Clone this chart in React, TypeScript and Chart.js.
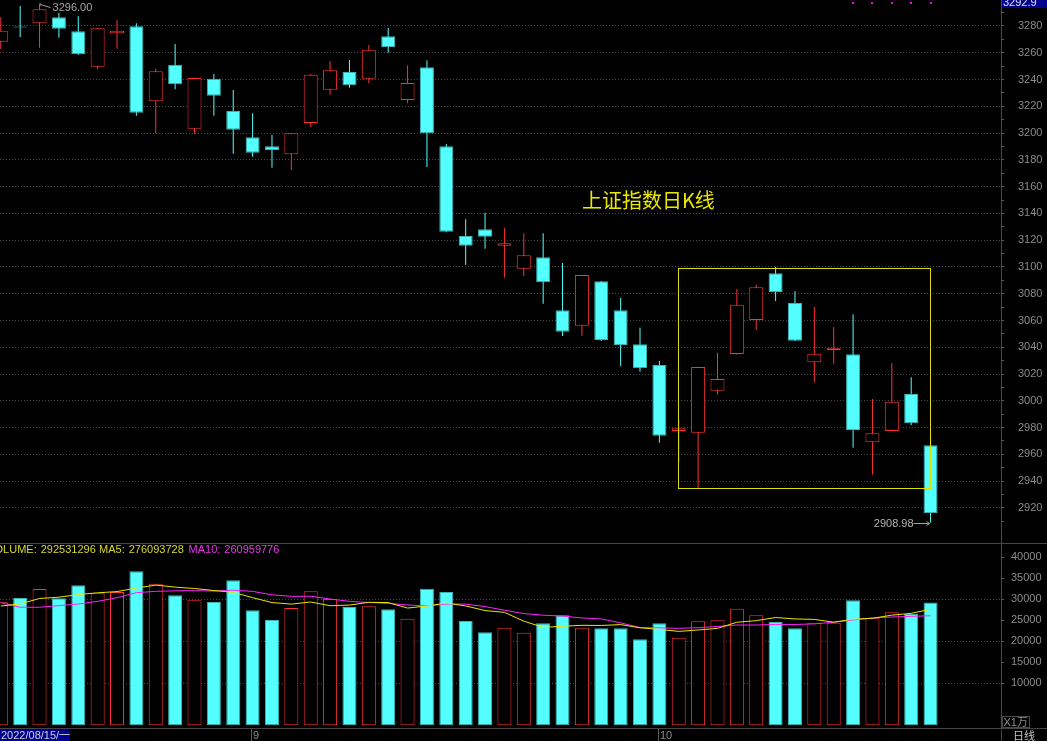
import React, { useEffect, useRef } from "react";
import { Chart, registerables } from "chart.js";

Chart.register(...registerables);

// ---- data ----
const opens = [3268.3, 3279.3, 3282.0, 3286.5, 3276.0, 3249.6, 3274.5, 3279.8, 3223.7, 3251.1, 3203.3, 3240.6, 3216.5, 3196.8, 3190.1, 3184.1, 3207.5, 3232.4, 3245.6, 3240.6, 3272.3, 3224.7, 3249.1, 3190.1, 3123.1, 3128.1, 3115.9, 3098.7, 3107.2, 3067.6, 3056.1, 3089.3, 3067.6, 3042.2, 3026.7, 2977.4, 2976.2, 3007.5, 3034.9, 3060.4, 3095.2, 3073.1, 3028.8, 3037.7, 3034.7, 2969.0, 2977.4, 3005.1, 2966.7];
const highs = [3286.5, 3294.9, 3296.0, 3289.9, 3287.2, 3278.5, 3284.5, 3282.0, 3248.1, 3266.6, 3241.5, 3244.1, 3232.2, 3214.8, 3198.6, 3200.0, 3244.1, 3253.9, 3254.6, 3265.8, 3278.5, 3250.6, 3254.4, 3191.8, 3135.6, 3140.5, 3129.3, 3125.1, 3125.1, 3102.9, 3094.2, 3089.5, 3076.8, 3054.6, 3029.7, 2986.1, 3025.4, 3035.9, 3083.5, 3086.7, 3100.2, 3081.8, 3070.1, 3055.1, 3064.6, 3001.3, 3028.0, 3017.5, 2974.4];
const lows = [3262.6, 3271.8, 3263.8, 3271.3, 3258.6, 3247.6, 3263.0, 3213.0, 3199.5, 3232.7, 3199.5, 3213.0, 3184.6, 3182.4, 3174.1, 3172.2, 3204.5, 3228.7, 3233.9, 3237.2, 3260.1, 3222.2, 3174.7, 3126.0, 3101.4, 3113.6, 3092.0, 3093.2, 3072.5, 3048.4, 3048.6, 3044.7, 3025.9, 3021.7, 2968.7, 2954.0, 2934.1, 3004.5, 3034.6, 3052.9, 3074.5, 3044.6, 3013.8, 3027.7, 2964.9, 2944.8, 2977.2, 2981.7, 2908.98];
const closes = [3276.5, 3278.8, 3292.5, 3278.0, 3258.9, 3278.3, 3276.5, 3215.2, 3246.2, 3236.4, 3241.2, 3227.9, 3202.5, 3185.3, 3187.1, 3199.8, 3243.6, 3246.9, 3235.7, 3262.3, 3264.3, 3237.4, 3199.8, 3126.3, 3115.9, 3122.6, 3117.6, 3108.7, 3088.5, 3051.6, 3094.0, 3045.4, 3041.7, 3024.3, 2973.9, 2979.4, 3025.2, 3016.3, 3071.8, 3084.8, 3081.3, 3044.9, 3035.2, 3039.2, 2978.2, 2975.7, 2999.3, 2983.2, 2916.2];
// volume in units of 10,000 (X1万)
const volumes = [29300, 30310, 32450, 30240, 33330, 31430, 31740, 36670, 33720, 30950, 29760, 29360, 34520, 27380, 25070, 27930, 31900, 30070, 28170, 28330, 27620, 25380, 32520, 31740, 24830, 22140, 23240, 22050, 24290, 26190, 23240, 23090, 23090, 20480, 24290, 20860, 24760, 25000, 27760, 26190, 24600, 23090, 24430, 24430, 29760, 25620, 26900, 26570, 29253];
const ma5 = [28400, 28900, 30200, 30500, 31126, 31552, 31838, 32682, 33378, 32902, 32568, 32092, 31662, 30394, 29218, 28852, 29360, 28470, 28628, 29280, 29218, 27914, 28404, 29118, 28418, 27322, 26894, 24800, 23310, 23582, 23802, 23772, 23980, 23218, 22838, 22362, 22696, 23078, 24534, 24914, 25662, 25328, 25214, 24548, 25262, 25466, 26228, 26656, 27621];
const ma10 = [29190, 28100, 28100, 28500, 28880, 29520, 30380, 31570, 31900, 32014, 32060, 31965, 32172, 31886, 31060, 30710, 30726, 30066, 29511, 29249, 29035, 28637, 28437, 28873, 28849, 28270, 27404, 26602, 26214, 26000, 25562, 25333, 24390, 23264, 23210, 23082, 23234, 23529, 23876, 23876, 24012, 24012, 24146, 24541, 25088, 25564, 25778, 25935, 26084];

// tick values of the two value axes
const priceTicks = [2900, 2910, 2920, 2930, 2940, 2950, 2960, 2970, 2980, 2990, 3000, 3010, 3020, 3030, 3040, 3050, 3060, 3070, 3080, 3090, 3100, 3110, 3120, 3130, 3140, 3150, 3160, 3170, 3180, 3190, 3200, 3210, 3220, 3230, 3240, 3250, 3260, 3270, 3280, 3290];
const volumeTicks = [10000, 15000, 20000, 25000, 30000, 35000, 40000];

const TITLE = "上证指数日K线";
const TITLE_AT_INDEX = 30;
const TITLE_AT_PRICE = 3150;
const HIGH_INDEX = 2;
const HIGH_LABEL = "3296.00";
const LOW_INDEX = 48;
const LOW_LABEL = "2908.98";
const BOX_FROM = 35;
const BOX_TO = 48;
const BOX_TOP = 3099;
const BOX_BOTTOM = 2934.3;
const MARK_INDEXES = [44, 45, 46, 47, 48];
const CURSOR_PRICE = "3292.9";
const VOL_NOW = "292531296";
const MA5_NOW = "276093728";
const MA10_NOW = "260959776";
const FIRST_DATE = "2022/08/15/一";
const MONTH_INDEXES = [13, 34];
const MONTH_LABELS = ["9", "10"];
const PRICE_LABEL_MIN = 2920;
const PRICE_LABEL_MAX = 3280;
const VOL_GRID = [10000, 20000, 30000];

// ---- axis ranges ----
const X_MIN = -0.0413;
const X_MAX = 51.6366;
const P_MIN = 2893.75;
const P_MAX = 3299.42;
const V_MIN = -643;
const V_MAX = 43405;

const RED = "#ff3232";
const CYAN = "#54ffff";
const CYAN_EDGE = "#3cb4b4";
const GRID = "#474747";
const AXIS = "#4a4a4a";
const LABEL = "#8c8c8c";
const FONT = "'Liberation Sans', Arial, sans-serif";

const idx = opens.map((_, i) => i);
const isUp = (i: number) => closes[i] > opens[i];

const xScale = {
  type: "linear" as const,
  min: X_MIN,
  max: X_MAX,
  offset: false,
  display: false,
  grid: { display: false },
  afterFit: (s: any) => {
    s.paddingLeft = 0;
    s.paddingRight = 0;
    s.paddingTop = 0;
    s.paddingBottom = 0;
  },
};

function priceConfig(): any {
  const overlay = {
    id: "priceOverlay",
    afterDraw(chart: any) {
      const { ctx } = chart;
      const xs = chart.scales.x;
      const ys = chart.scales.y;
      const px = (i: number) => xs.getPixelForValue(i);
      const py = (v: number) => ys.getPixelForValue(v);
      ctx.save();
      // yellow frame
      ctx.strokeStyle = "#e0e000";
      ctx.lineWidth = 1;
      const bx1 = Math.floor(px(BOX_FROM)) + 0.5;
      const bx2 = Math.floor(px(BOX_TO)) + 0.5;
      const by1 = Math.floor(py(BOX_TOP)) + 0.5;
      const by2 = Math.floor(py(BOX_BOTTOM)) + 0.5;
      ctx.strokeRect(bx1, by1, bx2 - bx1, by2 - by1);
      // title
      ctx.fillStyle = "#e8e800";
      ctx.font = "20px 'Noto Sans CJK SC', sans-serif";
      ctx.textAlign = "left";
      ctx.textBaseline = "middle";
      ctx.fillText(TITLE, px(TITLE_AT_INDEX), py(TITLE_AT_PRICE));
      // high label
      ctx.font = `11px ${FONT}`;
      const hx = px(HIGH_INDEX);
      const hy = py(highs[HIGH_INDEX]);
      ctx.strokeStyle = "#a0a0a0";
      ctx.fillStyle = "#a8a8a8";
      ctx.beginPath();
      ctx.moveTo(hx + 11, hy + 3);
      ctx.lineTo(hx + 1, hy);
      ctx.moveTo(hx + 0.5, hy - 1.5);
      ctx.lineTo(hx + 0.5, hy + 1.5);
      ctx.stroke();
      ctx.fillText(HIGH_LABEL, hx + 13, hy + 3.7);
      // low label
      const lx = px(LOW_INDEX);
      const ly = Math.round(py(lows[LOW_INDEX])) + 0.5;
      ctx.textAlign = "right";
      ctx.fillStyle = "#b4b4b4";
      ctx.fillText(LOW_LABEL, lx - 17, ly + 0.5);
      ctx.strokeStyle = "#a0a0a0";
      ctx.beginPath();
      ctx.moveTo(lx - 17, ly);
      ctx.lineTo(lx - 1, ly);
      ctx.moveTo(lx - 4, ly - 2);
      ctx.lineTo(lx - 1, ly);
      ctx.lineTo(lx - 4, ly + 2);
      ctx.stroke();
      // magenta markers
      ctx.fillStyle = "#ff00ff";
      MARK_INDEXES.forEach((i) => {
        ctx.fillRect(Math.round(px(i)) - 1, 2, 2, 2);
      });
      // cursor price box at top right
      const right = chart.chartArea.right;
      ctx.fillStyle = "#00008c";
      ctx.fillRect(right + 1, 0, chart.width - right - 1, 8);
      ctx.fillStyle = "#e0e0ff";
      ctx.textAlign = "left";
      ctx.textBaseline = "alphabetic";
      ctx.fillText(CURSOR_PRICE, right + 2, 6);
      ctx.restore();
    },
  };

  return {
    type: "bar",
    data: {
      datasets: [
        {
          label: "body",
          data: idx.map((i) => ({ x: i, y: [opens[i], closes[i]] })),
          backgroundColor: idx.map((i) => (isUp(i) ? "#000000" : CYAN)),
          borderColor: idx.map((i) => (isUp(i) ? RED : CYAN_EDGE)),
          borderWidth: 1,
          borderSkipped: false,
          barThickness: 14,
          minBarLength: 1,
          inflateAmount: 0,
          grouped: false,
          order: 1,
        },
        {
          label: "wick",
          data: idx.map((i) => ({ x: i, y: [lows[i], highs[i]] })),
          backgroundColor: idx.map((i) => (isUp(i) ? RED : CYAN)),
          borderWidth: 0,
          barThickness: 1,
          inflateAmount: 0,
          grouped: false,
          order: 2,
        },
      ],
    },
    options: {
      animation: false,
      responsive: false,
      maintainAspectRatio: false,
      events: [],
      layout: { padding: { left: 0, right: 5, top: 0, bottom: 0 } },
      plugins: { legend: { display: false }, tooltip: { enabled: false } },
      scales: {
        x: xScale,
        y: {
          type: "linear",
          position: "right",
          min: P_MIN,
          max: P_MAX,
          afterBuildTicks: (s: any) => {
            s.ticks = priceTicks.filter((v) => v >= P_MIN && v <= P_MAX).map((v) => ({ value: v }));
          },
          afterFit: (s: any) => {
            s.width = 41;
            s.paddingTop = 0;
            s.paddingBottom = 0;
          },
          ticks: {
            autoSkip: false,
            padding: 14,
            color: LABEL,
            font: { family: FONT, size: 11 },
            callback: (v: number) =>
              v % 20 === 0 && v >= PRICE_LABEL_MIN && v <= PRICE_LABEL_MAX ? String(v) : "",
          },
          grid: {
            color: (c: any) => {
              const v = c.tick ? c.tick.value : NaN;
              return v % 20 === 0 && v >= PRICE_LABEL_MIN && v <= PRICE_LABEL_MAX ? GRID : "rgba(0,0,0,0)";
            },
            tickColor: (c: any) => {
              const v = c.tick ? c.tick.value : NaN;
              return v >= PRICE_LABEL_MIN - 10 ? "#5a5a5a" : "rgba(0,0,0,0)";
            },
            tickLength: 3,
            drawTicks: true,
            lineWidth: 1,
          },
          border: { display: true, color: AXIS, width: 1, dash: [1, 2] },
        },
      },
    },
    plugins: [overlay],
  };
}

function volumeConfig(): any {
  const overlay = {
    id: "volOverlay",
    afterDraw(chart: any) {
      const { ctx } = chart;
      const xs = chart.scales.x;
      const px = (i: number) => xs.getPixelForValue(i);
      const area = chart.chartArea;
      const W = chart.width;
      const H = chart.height;
      ctx.save();
      ctx.strokeStyle = "#444444";
      ctx.lineWidth = 1;
      // panel separators
      ctx.beginPath();
      ctx.moveTo(0, 0.5);
      ctx.lineTo(W, 0.5);
      ctx.moveTo(0, Math.round(area.bottom) + 0.5);
      ctx.lineTo(W, Math.round(area.bottom) + 0.5);
      ctx.moveTo(Math.round(area.right) + 0.5, area.bottom);
      ctx.lineTo(Math.round(area.right) + 0.5, H);
      ctx.stroke();
      // header
      ctx.font = `11px ${FONT}`;
      ctx.textBaseline = "middle";
      ctx.fillStyle = "#d8d830";
      ctx.textAlign = "right";
      ctx.fillText("VOLUME:", 36.7, 7);
      ctx.fillText("MA5:", 124.7, 7);
      ctx.textAlign = "left";
      ctx.fillText(VOL_NOW, 40.7, 7);
      ctx.fillText(MA5_NOW, 128.7, 7);
      ctx.fillStyle = "#e838e8";
      ctx.textAlign = "right";
      ctx.fillText("MA10:", 220.3, 7);
      ctx.textAlign = "left";
      ctx.fillText(MA10_NOW, 224.3, 7);
      // unit box
      const r = Math.round(area.right);
      ctx.strokeStyle = "#4a4a4a";
      ctx.strokeRect(r + 1.5, area.bottom - 11.5, 27, 11);
      ctx.fillStyle = LABEL;
      ctx.font = "11px 'Liberation Sans', 'Noto Sans CJK SC', sans-serif";
      ctx.fillText("X1万", r + 2.5, area.bottom - 5.5);
      // bottom strip
      const sy = Math.round(area.bottom) + 1;
      const sm = (sy + H) / 2 + 0.5;
      ctx.fillStyle = "#000090";
      ctx.fillRect(0, sy, 70, H - sy);
      ctx.fillStyle = "#d0d0d0";
      ctx.font = "11px 'Liberation Sans', 'Noto Sans CJK SC', sans-serif";
      ctx.fillText(FIRST_DATE, 1, sm);
      ctx.strokeStyle = "#5a5a5a";
      MONTH_INDEXES.forEach((mi, k) => {
        const lx = Math.round(px(mi) - 1.5) + 0.5;
        ctx.beginPath();
        ctx.moveTo(lx, sy);
        ctx.lineTo(lx, H);
        ctx.stroke();
        ctx.fillStyle = LABEL;
        ctx.fillText(MONTH_LABELS[k], lx + 1.5, sm);
      });
      ctx.fillStyle = "#c8c8c8";
      ctx.font = "11px 'Noto Sans CJK SC', sans-serif";
      ctx.fillText("日线", r + 12, sm);
      ctx.restore();
    },
  };

  return {
    type: "bar",
    data: {
      datasets: [
        {
          type: "line",
          label: "MA5",
          data: idx.map((i) => ({ x: i, y: ma5[i] })),
          borderColor: "#e8e800",
          borderWidth: 1,
          pointRadius: 0,
          tension: 0,
          order: 0,
        },
        {
          type: "line",
          label: "MA10",
          data: idx.map((i) => ({ x: i, y: ma10[i] })),
          borderColor: "#ff20ff",
          borderWidth: 1,
          pointRadius: 0,
          tension: 0,
          order: 0,
        },
        {
          type: "bar",
          label: "VOLUME",
          data: idx.map((i) => ({ x: i, y: volumes[i] })),
          backgroundColor: idx.map((i) => (isUp(i) ? "#000000" : CYAN)),
          borderColor: idx.map((i) => (isUp(i) ? RED : CYAN_EDGE)),
          borderWidth: 1,
          borderSkipped: false,
          barThickness: 14,
          inflateAmount: 0,
          grouped: false,
          order: 2,
        },
      ],
    },
    options: {
      animation: false,
      responsive: false,
      maintainAspectRatio: false,
      events: [],
      layout: { padding: { left: 0, right: 5, top: 0, bottom: 13 } },
      plugins: { legend: { display: false }, tooltip: { enabled: false } },
      scales: {
        x: xScale,
        y: {
          type: "linear",
          position: "right",
          min: V_MIN,
          max: V_MAX,
          afterBuildTicks: (s: any) => {
            s.ticks = volumeTicks.map((v) => ({ value: v }));
          },
          afterFit: (s: any) => {
            s.width = 41;
            s.paddingTop = 0;
            s.paddingBottom = 0;
          },
          ticks: {
            autoSkip: false,
            padding: 7,
            color: LABEL,
            font: { family: FONT, size: 11 },
            callback: (v: number) => String(v),
          },
          grid: {
            color: (c: any) => (c.tick && VOL_GRID.includes(c.tick.value) ? GRID : "rgba(0,0,0,0)"),
            tickColor: "#5a5a5a",
            tickLength: 3,
            drawTicks: true,
            lineWidth: 1,
          },
          border: { display: true, color: AXIS, width: 1, dash: [1, 2] },
        },
      },
    },
    plugins: [overlay],
  };
}

export default function App() {
  const priceRef = useRef<HTMLCanvasElement | null>(null);
  const volRef = useRef<HTMLCanvasElement | null>(null);

  useEffect(() => {
    Chart.defaults.font.family = FONT;
    Chart.defaults.font.size = 11;
    const pc = new Chart(priceRef.current as HTMLCanvasElement, priceConfig());
    const vc = new Chart(volRef.current as HTMLCanvasElement, volumeConfig());
    return () => {
      pc.destroy();
      vc.destroy();
    };
  }, []);

  return (
    <div
      style={{
        position: "fixed",
        left: 0,
        top: 0,
        width: 1047,
        height: 741,
        background: "#000",
        overflow: "hidden",
      }}
    >
      <canvas
        ref={priceRef}
        width={1047}
        height={543}
        style={{ position: "absolute", left: 0, top: 0, width: 1047, height: 543 }}
      />
      <canvas
        ref={volRef}
        width={1047}
        height={198}
        style={{ position: "absolute", left: 0, top: 543, width: 1047, height: 198 }}
      />
    </div>
  );
}
